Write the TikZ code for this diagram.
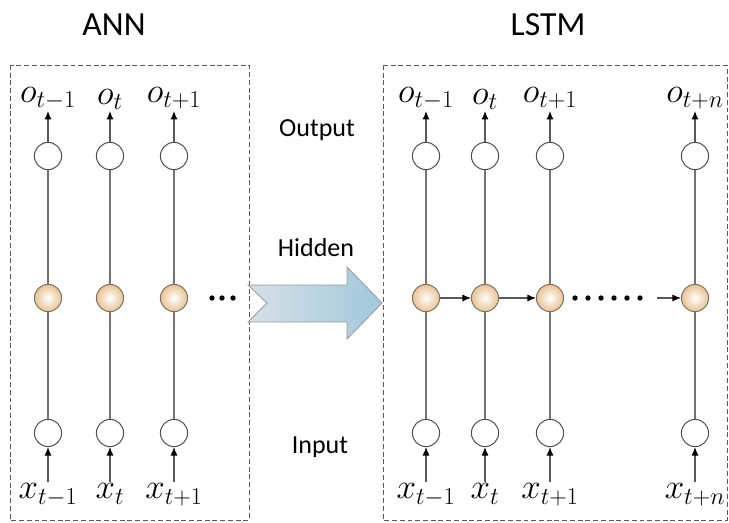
\documentclass[tikz,border=0pt]{standalone}
\usepackage{fontspec}
\setmainfont{Carlito}
\usetikzlibrary{arrows.meta}

\definecolor{ballrim}{RGB}{128,112,96}
\definecolor{balltan}{RGB}{232,194,146}
\definecolor{shaftgrey}{RGB}{214,224,232}
\definecolor{shaftblue}{RGB}{160,200,220}

\begin{document}
\begin{tikzpicture}[x=0.025cm,y=-0.025cm,
  unit/.style={draw=black!70,fill=white,circle,minimum size=0.68cm,inner sep=0pt,line width=0.7pt},
  hid/.style={draw=ballrim,circle,minimum size=0.68cm,inner sep=0pt,line width=0.7pt,
    inner color=white,outer color=balltan},
  lab/.style={inner sep=1pt,font=\fontsize{25}{30}\selectfont},
  title/.style={font=\fontsize{24}{28}\selectfont},
  layer/.style={font=\fontsize{18.5}{22}\selectfont},
  frame/.style={draw=black!65,dashed,dash pattern=on 3.5pt off 2pt,line width=0.7pt},
  link/.style={draw=black!55,line width=0.8pt},
  flow/.style={draw=black!65,line width=0.8pt,-{Latex[length=6pt,width=5pt,color=black]}}
]
  \useasboundingbox (0,0) rectangle (729,522);

  \draw[frame] (10,65) rectangle (249,520);
  \draw[frame] (383,65) rectangle (727,520);

  \node[title] (ann) at (114,25) {ANN};
  \node[title] (lstm) at (548,25) {LSTM};

  \node[layer] (outtxt) at (317,130) {Output};
  \node[layer] (hidtxt) at (316,248) {Hidden};
  \node[layer] (intxt) at (320,447) {Input};

  % shaded block arrow in the middle
  \draw[black!40,line width=0.6pt,left color=shaftgrey,middle color=white!92!shaftgrey,right color=shaftblue]
    (248,285) -- (347,285) -- (347,267) -- (382,303) -- (347,339) -- (347,322)
    -- (248,322) -- (267,303) -- cycle;

  % ANN: independent columns
  \foreach \x/\i/\s in {48/1/{t-1},110/2/t,174/3/{t+1}} {
    \node[unit] (ao\i) at (\x,156) {};
    \node[hid] (ah\i) at (\x,298) {};
    \node[unit] (ai\i) at (\x,433) {};
    \node[lab,anchor=south] (ay\i) at (\x,111) {$o_{\s}$};
    \node[lab,anchor=north] (ax\i) at (\x,482) {$x_{\s}$};
    \path[link] (ao\i) edge (ah\i) (ah\i) edge (ai\i);
    \path[flow] (ao\i) edge (ay\i) (ax\i) edge (ai\i);
  }
  \foreach \x in {212,222,233}
    \fill (\x,298) circle[radius=1.9pt];

  % LSTM: columns chained through the hidden layer
  \foreach \x/\i/\s in {426/1/{t-1},485/2/t,550/3/{t+1},695/4/{t+n}} {
    \node[unit] (bo\i) at (\x,156) {};
    \node[hid] (bh\i) at (\x,298) {};
    \node[unit] (bi\i) at (\x,433) {};
    \node[lab,anchor=south] (by\i) at (\x,111) {$o_{\s}$};
    \node[lab,anchor=north] (bx\i) at (\x,482) {$x_{\s}$};
    \path[link] (bo\i) edge (bh\i) (bh\i) edge (bi\i);
    \path[flow] (bo\i) edge (by\i) (bx\i) edge (bi\i);
  }
  \path[flow] (bh1) edge (bh2) (bh2) edge (bh3);
  \foreach \k in {0,...,5}
    \fill (575+13*\k,298) circle[radius=1.9pt];
  \coordinate (gap) at (657,298);
  \draw[flow] (gap) -- (bh4);
\end{tikzpicture}
\end{document}
